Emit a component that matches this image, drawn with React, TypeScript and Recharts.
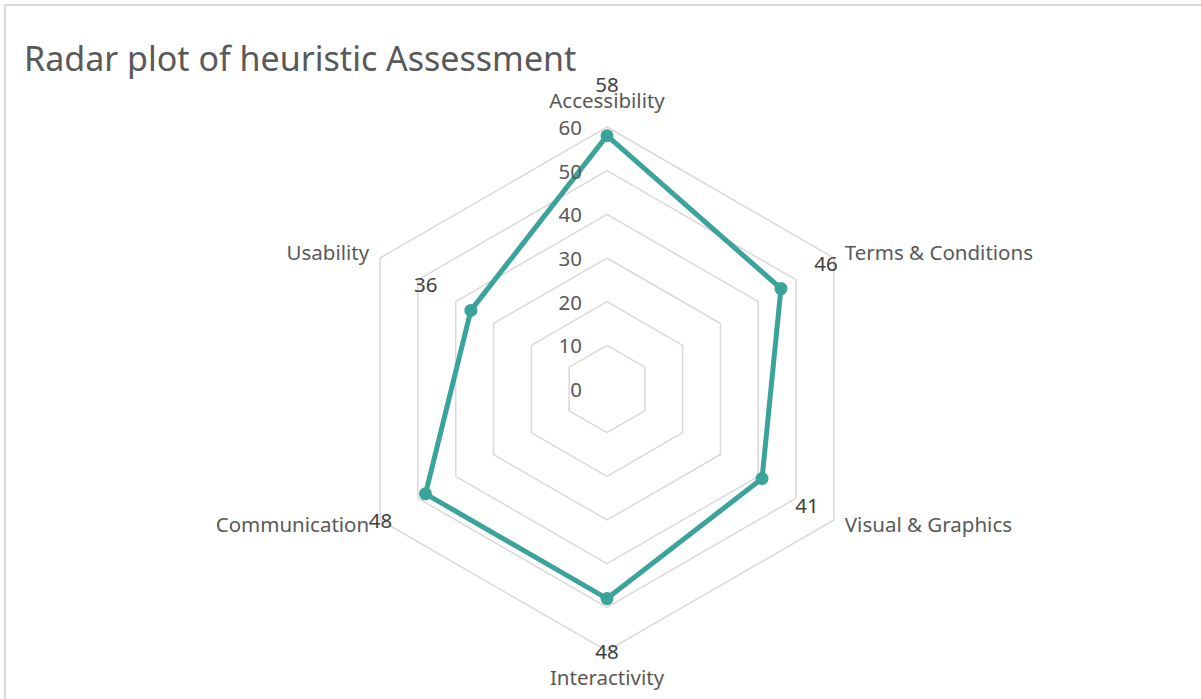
import React from 'react';
import { RadarChart, Radar, PolarGrid, PolarAngleAxis, PolarRadiusAxis } from 'recharts';

const categories = [
  'Accessibility',
  'Terms & Conditions',
  'Visual & Graphics',
  'Interactivity',
  'Communication',
  'Usability',
];
const scores = [58, 46, 41, 48, 48, 36];
const radiusTicks = [0, 10, 20, 30, 40, 50, 60];
const title = 'Radar plot of heuristic Assessment';

const data = categories.map((c, i) => ({ category: c, score: scores[i] }));

const W = 1201;
const H = 699;
const CX = 607;
const CY = 389;
const R = 262;
const TEAL = '#3AA39A';
const FONT = '"Noto Sans", sans-serif';
const LABEL = '#595959';
const FS = 20.5;

const AngleTick = (props: any) => {
  const { x, y, payload } = props;
  const dx = x - CX;
  const dy = y - CY;
  let anchor: 'start' | 'middle' | 'end' = 'middle';
  let tx = x;
  let ty = y;
  if (Math.abs(dx) < 1) {
    ty = y + (dy < 0 ? -19 : 18);
  } else {
    anchor = dx > 0 ? 'start' : 'end';
    tx = x + (dx > 0 ? 4 : -4);
    ty = y + (dy < 0 ? -2 : 0);
  }
  return (
    <text x={tx} y={ty} textAnchor={anchor} dominantBaseline="central" fill={LABEL} fontSize={FS} fontFamily={FONT}>
      {payload.value}
    </text>
  );
};

const RadiusTick = (props: any) => {
  const { x, y, payload } = props;
  return (
    <text x={x - 25} y={y} textAnchor="end" dominantBaseline="central" fill={LABEL} fontSize={FS} fontFamily={FONT}>
      {payload.value}
    </text>
  );
};

const Dot = (props: any) => {
  const { cx, cy, index } = props;
  const dx = cx - CX;
  const dy = cy - CY;
  const len = Math.hypot(dx, dy) || 1;
  const lx = cx + (dx / len) * 52;
  const ly = cy + (dy / len) * 52;
  return (
    <g key={`dot-${index}`}>
      <circle cx={cx} cy={cy} r={6.5} fill={TEAL} stroke="none" />
      <text x={lx} y={ly} textAnchor="middle" dominantBaseline="central" fill="#404040" fontSize={FS} fontFamily={FONT}>
        {scores[index]}
      </text>
    </g>
  );
};

export default function App() {
  return (
    <div style={{ position: 'absolute', left: 0, top: 0, width: W, height: H, overflow: 'hidden', background: '#fff' }}>
      <div
        style={{
          position: 'absolute',
          left: 4,
          top: 4,
          width: W + 20,
          height: H + 20,
          border: '2px solid #d9d9d9',
          boxSizing: 'border-box',
        }}
      />
      <div style={{ position: 'absolute', left: 0, top: 0 }}>
        <RadarChart width={W} height={H} data={data} cx={CX} cy={CY} outerRadius={R} margin={{ top: 0, right: 0, bottom: 0, left: 0 }}>
          <PolarGrid gridType="polygon" radialLines={false} stroke="#d9d9d9" strokeWidth={1.5} />
          <PolarAngleAxis dataKey="category" tick={AngleTick} tickLine={false} axisLine={false} />
          <PolarRadiusAxis
            angle={90}
            domain={[radiusTicks[0], radiusTicks[radiusTicks.length - 1]]}
            tickCount={radiusTicks.length}
            tick={RadiusTick}
            tickLine={false}
            axisLine={false}
          />
          <Radar
            dataKey="score"
            stroke={TEAL}
            strokeWidth={5}
            fill="none"
            fillOpacity={0}
            dot={Dot}
            isAnimationActive={false}
          />
        </RadarChart>
      </div>
      <div
        style={{
          position: 'absolute',
          left: 24,
          top: 41,
          fontFamily: FONT,
          fontSize: 34,
          lineHeight: '34px',
          color: LABEL,
          whiteSpace: 'nowrap',
        }}
      >
        {title}
      </div>
    </div>
  );
}
